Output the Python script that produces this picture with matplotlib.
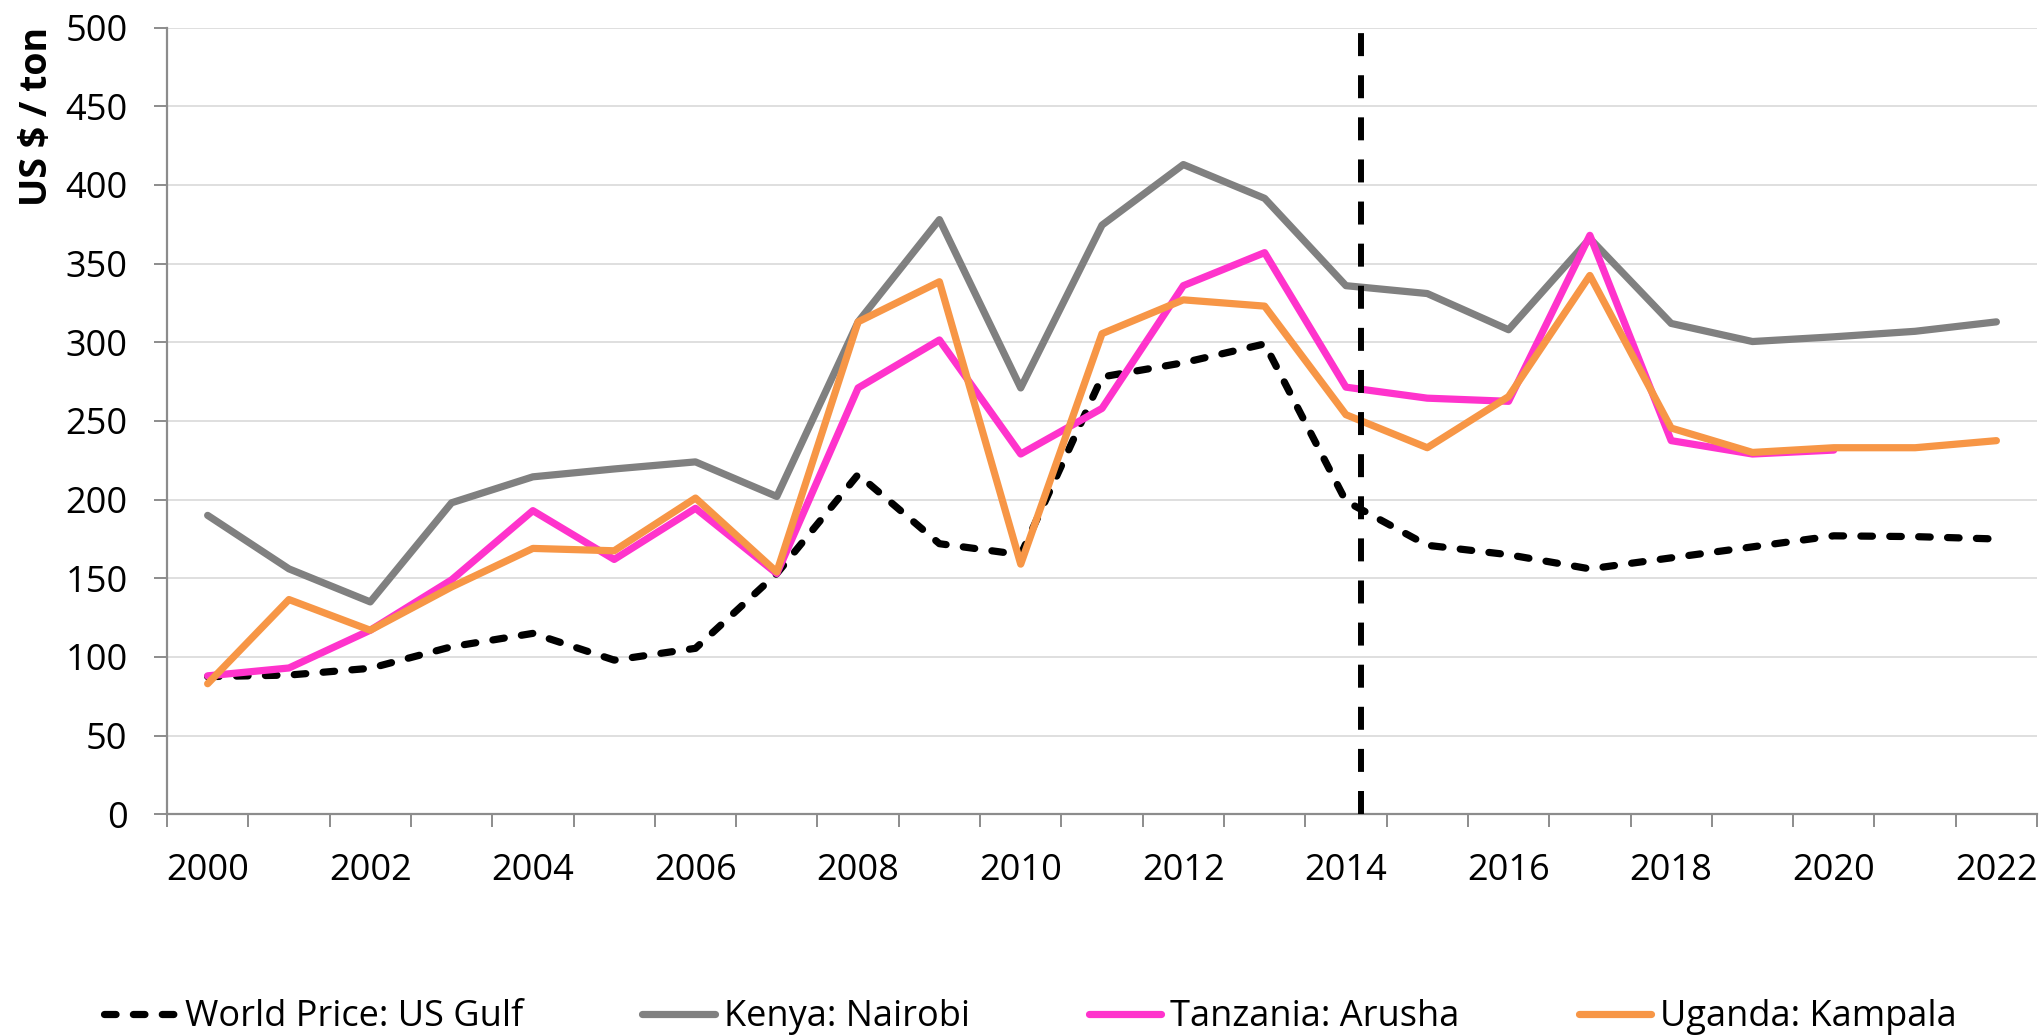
import matplotlib.pyplot as plt
from matplotlib.ticker import FixedLocator, MultipleLocator

# prices in US $ / ton
years = list(range(2000, 2023))
world = [87.5, 88.5, 92.8, 106.5, 115, 98, 105.5, 153, 216, 172, 165, 278, 287,
         299, 199, 171, 165, 156, 163, 170, 177, 176.5, 175]
kenya = [190, 156, 135, 198, 214.5, 219.5, 224, 202, 313, 378, 271, 374.5, 413,
         391.5, 336, 331, 308, 366, 312, 300.5, 303.5, 307, 313]
tanzania = [88, 93, 117, 149, 193, 162, 194.5, 153, 271, 301.5, 229, 258, 336,
            357, 271.5, 264.5, 262.5, 368, 237.5, 229, 231.5]
uganda = [83, 136.5, 117, 144.5, 169, 167.5, 201, 154, 313, 338.5, 159, 305.5,
          327, 323, 254, 233, 265.5, 342.5, 245.5, 230, 233, 233, 237.5]
break_year = 2014.19

FONT = 'Open Sans'
plt.rcParams['font.family'] = [FONT, 'DejaVu Sans']

fig = plt.figure(figsize=(20.44, 10.36), dpi=100)
ax = fig.add_axes([0.0817, 0.2140, 0.9149, 0.7593])

ax.plot(years, world, color='black', lw=5.2, linestyle=(0, (1.6, 2.4)),
        dash_capstyle='round', label='World Price: US Gulf', zorder=3)
ax.plot(years, kenya, color='#808080', lw=5.2, label='Kenya: Nairobi',
        solid_capstyle='round', zorder=3)
ax.plot(years[:len(tanzania)], tanzania, color='#FF33CC', lw=5.2,
        label='Tanzania: Arusha', solid_capstyle='round', zorder=3)
ax.plot(years, uganda, color='#F79646', lw=5.2, label='Uganda: Kampala',
        solid_capstyle='round', zorder=3)

ax.vlines(break_year, 0, 500, color='black', lw=4.3,
          linestyle=(0, (3.85, 3.2)), zorder=4)

ax.set_xlim(years[0] - 0.5, years[-1] + 0.5)
ax.set_ylim(0, 500)
ax.yaxis.set_major_locator(MultipleLocator(50))
ax.xaxis.set_major_locator(FixedLocator(years[::2]))
ax.xaxis.set_minor_locator(FixedLocator([y - 0.5 for y in years] + [years[-1] + 0.5]))

ax.grid(axis='y', color='#D9D9D9', lw=1.2, zorder=0)
ax.set_axisbelow(True)
for s in ['top', 'right']:
    ax.spines[s].set_visible(False)
for s in ['left', 'bottom']:
    ax.spines[s].set_color('#8C8C8C')
    ax.spines[s].set_linewidth(1.6)

ax.tick_params(axis='y', which='major', length=9.4, width=1.4, color='#8C8C8C',
               pad=19, labelsize=26)
ax.tick_params(axis='x', which='major', length=0, pad=28, labelsize=26)
ax.tick_params(axis='x', which='minor', length=9.4, width=1.4, color='#8C8C8C')

fig.text(0.018, 0.888, 'US $ / ton', rotation=90, ha='center', va='center',
         fontsize=27, fontweight='bold')

fig.legend(loc='center', bbox_to_anchor=(0.504, 0.018), ncol=4, frameon=False,
           fontsize=26, handlelength=2.0, handletextpad=0.25, columnspacing=3.3,
           borderaxespad=0)

fig.savefig('out.png', dpi=100)
